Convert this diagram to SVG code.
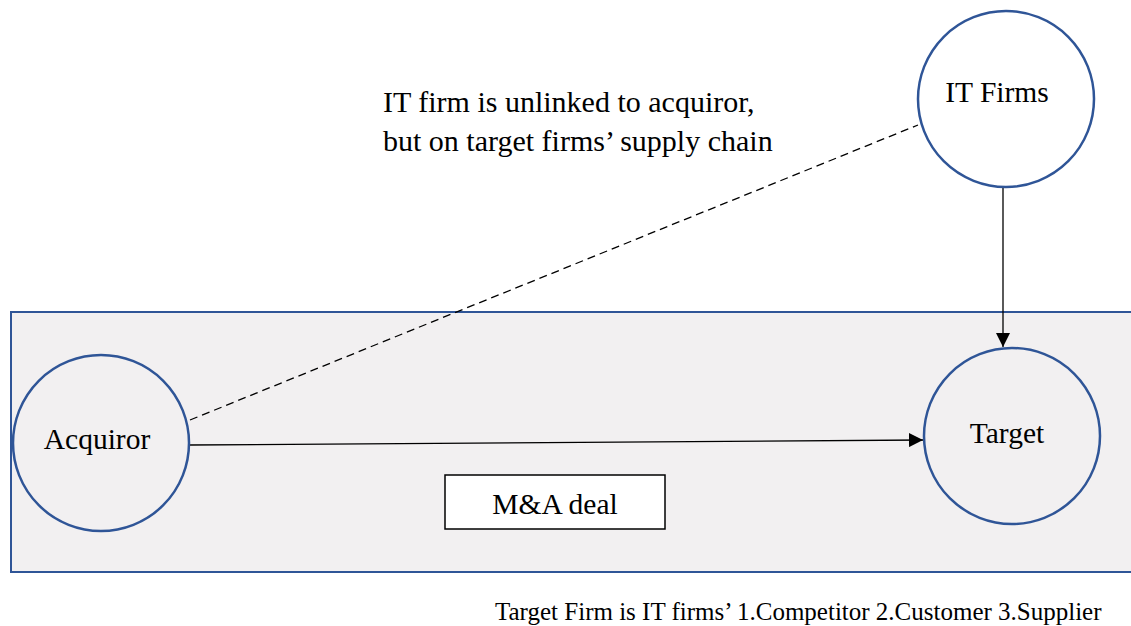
<svg xmlns="http://www.w3.org/2000/svg" width="1131" height="626" viewBox="0 0 1131 626">
<style>
.t{font-family:"Liberation Serif","Times New Roman",serif;fill:#000}
.node{fill:#F2F0F1;stroke:#2F5597;stroke-width:2.5}
.conn{stroke:#000;stroke-width:1.3;fill:none}
</style>
<defs>
<marker id="arr" viewBox="0 0 10 10" refX="10" refY="5" markerWidth="14" markerHeight="14" markerUnits="userSpaceOnUse" orient="auto">
<path d="M0,0 L10,5 L0,10 Z" fill="#000"/>
</marker>
</defs>
<rect width="1131" height="626" fill="#fff"/>
<g id="frame">
<rect x="11" y="312" width="1135" height="260" fill="#F2F0F1" stroke="#2F5597" stroke-width="2"/>
</g>
<g id="connectors">
<line class="conn" x1="190" y1="420" x2="918" y2="125" stroke-dasharray="8,5" stroke-width="1.5"/>
<line class="conn" x1="1003" y1="188" x2="1003" y2="347" marker-end="url(#arr)"/>
<line class="conn" x1="189" y1="445" x2="923" y2="440" marker-end="url(#arr)"/>
</g>
<g id="acquiror">
<circle class="node" cx="101" cy="443" r="88"/>
<text class="t" x="97" y="449" font-size="29.5" text-anchor="middle">Acquiror</text>
</g>
<g id="itfirms">
<circle class="node" cx="1006" cy="99" r="88" style="fill:#fff"/>
<text class="t" x="997" y="102" font-size="29.5" text-anchor="middle">IT Firms</text>
</g>
<g id="target">
<circle class="node" cx="1012" cy="436" r="88"/>
<text class="t" x="1007" y="443" font-size="29.5" text-anchor="middle">Target</text>
</g>
<g id="deal">
<rect x="445" y="475" width="220" height="54" fill="#fff" stroke="#000" stroke-width="1.5"/>
<text class="t" x="555" y="514" font-size="29.5" text-anchor="middle">M&amp;A deal</text>
</g>
<g id="annotation">
<text class="t" x="383" y="112" font-size="30">IT firm is unlinked to acquiror,</text>
<text class="t" x="383" y="151" font-size="30">but on target firms’ supply chain</text>
</g>
<g id="footnote">
<text class="t" x="495" y="620" font-size="25">Target Firm is IT firms’ 1.Competitor 2.Customer 3.Supplier</text>
</g>
</svg>
